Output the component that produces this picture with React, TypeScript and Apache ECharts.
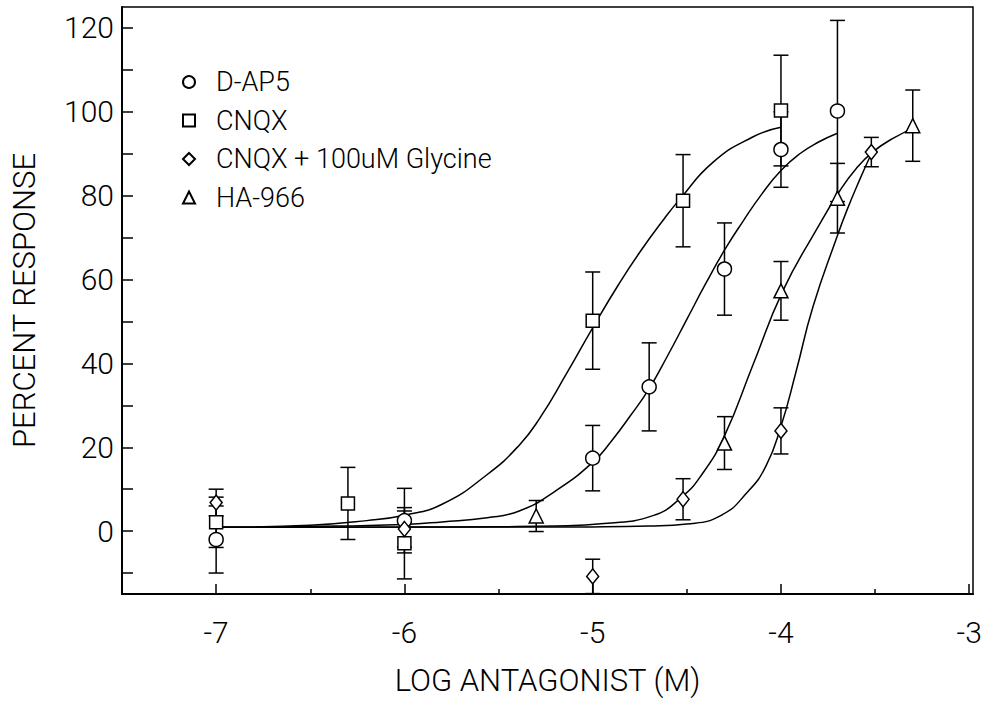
import React, { useEffect, useRef } from "react";
import * as echarts from "echarts";

// ---- Data ----
const seriesNames = ["D-AP5", "CNQX", "CNQX + 100uM Glycine", "HA-966"];

// D-AP5 (circles)
const dap5X = [-7, -6, -5, -4.7, -4.3, -4, -3.7];
const dap5Y = [-2, 2.5, 17.4, 34.4, 62.5, 91, 100.2];
const dap5Err = [8, 7.7, 7.8, 10.5, 11, 9, 21.6];

// CNQX (squares)
const cnqxX = [-7, -6.3, -6, -5, -4.52, -4];
const cnqxY = [2.1, 6.6, -2.9, 50.2, 78.8, 100.3];
const cnqxErr = [6, 8.6, 8.5, 11.6, 11, 13.2];

// CNQX + 100uM Glycine (diamonds)
const glyX = [-7, -6, -5, -4.52, -4, -3.52];
const glyY = [6.8, 0.5, -10.8, 7.6, 23.9, 90.4];
const glyErr = [3.2, 4.3, 4.1, 4.9, 5.5, 3.5];

// HA-966 (triangles)
const haX = [-5.3, -4.3, -4, -3.7, -3.3];
const haY = [3.6, 21, 57.3, 79.4, 96.7];
const haErr = [3.7, 6.3, 7, 8.3, 8.5];

// Fitted curves, points
const cnqxCurveX = [-7, -6.5, -6.2, -6, -5.8, -5.56, -5.39, -5.28, -5.14, -5, -4.86, -4.75, -4.62, -4.54, -4.36, -4.15, -4];
const cnqxCurveY = [0.9, 1.4, 2.5, 3.8, 6.4, 13.5, 20.5, 27, 37.5, 48.5, 59, 66.5, 74.5, 79, 88, 94, 96.3];

const dap5CurveX = [-7, -6.5, -6, -5.8, -5.56, -5.39, -5.2, -5, -4.9, -4.8, -4.7, -4.6, -4.5, -4.4, -4.3, -4.2, -4.1, -4, -3.9, -3.8, -3.7];
const dap5CurveY = [0.9, 1.1, 1.6, 2.2, 3.2, 4.8, 9.5, 16.4, 21.5, 27.5, 34, 42, 50.5, 59, 67, 74, 80.5, 86, 90, 92.8, 94.9];

const haCurveX = [-7, -6, -5.5, -5.2, -4.94, -4.68, -4.53, -4.42, -4.3, -4.15, -3.99, -3.81, -3.69, -3.6, -3.51, -3.4, -3.28];
const haCurveY = [0.9, 0.95, 1.05, 1.2, 1.8, 3.7, 8.0, 13.5, 22.7, 39.5, 57.3, 72, 81, 86.5, 90.5, 93.8, 96.4];

const glyCurveX = [-7, -5.5, -5, -4.7, -4.5, -4.32, -4.18, -4.08, -4, -3.92, -3.83, -3.7, -3.65, -3.58, -3.52];
const glyCurveY = [0.9, 0.95, 1.0, 1.2, 1.7, 3.7, 9.2, 15.5, 25, 38, 53.5, 70.5, 76.5, 84, 90];

const xTickMajor = [-7, -6, -5, -4, -3];
const xTickMinor = [-6.5, -5.5, -4.5, -3.5];
const yTicks = [-10, 0, 10, 20, 30, 40, 50, 60, 70, 80, 90, 100, 110, 120];
const yLabels = [0, 20, 40, 60, 80, 100, 120];

const FONT = "Roboto";

function zip(xs: number[], ys: number[]) {
  return xs.map((x, i) => [x, ys[i]]);
}
function errData(xs: number[], ys: number[], es: number[]) {
  return xs.map((x, i) => [x, ys[i] - es[i], ys[i] + es[i]]);
}

const errRender = (params: any, api: any) => {
  const x = api.value(0);
  const lo = api.value(1);
  const hi = api.value(2);
  const pLo = api.coord([x, lo]);
  const pHi = api.coord([x, hi]);
  const hw = 7.5;
  const style = { stroke: "#000", lineWidth: 1.5 };
  return {
    type: "group",
    children: [
      { type: "line", shape: { x1: pLo[0], y1: pLo[1], x2: pHi[0], y2: pHi[1] }, style },
      { type: "line", shape: { x1: pHi[0] - hw, y1: pHi[1], x2: pHi[0] + hw, y2: pHi[1] }, style },
      { type: "line", shape: { x1: pLo[0] - hw, y1: pLo[1], x2: pLo[0] + hw, y2: pLo[1] }, style },
    ],
  };
};

export default function App() {
  const ref = useRef<HTMLDivElement>(null);
  useEffect(() => {
    if (!ref.current) return;
    const chart = echarts.init(ref.current, undefined, { renderer: "svg" });
    const symbols = ["circle", "rect", "diamond", "triangle"];
    const sizes: any[] = [14, 13, [12, 15], 14];
    const pts = [zip(dap5X, dap5Y), zip(cnqxX, cnqxY), zip(glyX, glyY), zip(haX, haY)];
    const errs = [
      errData(dap5X, dap5Y, dap5Err),
      errData(cnqxX, cnqxY, cnqxErr),
      errData(glyX, glyY, glyErr),
      errData(haX, haY, haErr),
    ];
    const curves = [
      zip(dap5CurveX, dap5CurveY),
      zip(cnqxCurveX, cnqxCurveY),
      zip(glyCurveX, glyCurveY),
      zip(haCurveX, haCurveY),
    ];
    const series: any[] = [];
    curves.forEach((c, i) => {
      series.push({
        type: "line",
        name: seriesNames[i] + " fit",
        data: c,
        showSymbol: false,
        smooth: 0.5,
        lineStyle: { color: "#000", width: 1.5 },
        z: 2,
        silent: true,
      });
    });
    errs.forEach((e, i) => {
      series.push({
        type: "custom",
        name: seriesNames[i] + " error",
        data: e,
        renderItem: errRender,
        encode: { x: 0, y: [1, 2] },
        z: 3,
        silent: true,
      });
    });
    pts.forEach((p, i) => {
      series.push({
        type: "scatter",
        name: seriesNames[i],
        data: p,
        symbol: symbols[i],
        symbolSize: sizes[i],
        itemStyle: { color: "#fff", borderColor: "#000", borderWidth: 1.5, opacity: 1 },
        z: 5,
      });
    });

    chart.setOption({
      animation: false,
      backgroundColor: "#fff",
      textStyle: { fontFamily: FONT },
      grid: {
        left: 122,
        top: 7,
        width: 851,
        height: 588,
        show: true,
        borderColor: "#000",
        borderWidth: 1.5,
        containLabel: false,
      },
      legend: {
        data: seriesNames,
        orient: "vertical",
        left: 177,
        top: 62,
        itemWidth: 12,
        itemHeight: 12,
        itemGap: 8.5,
        textStyle: {
          fontSize: 27,
          fontFamily: FONT,
          fontWeight: 300,
          color: "#000",
          lineHeight: 30,
          padding: [0, 0, 0, 16],
        },
        selectedMode: false,
      },
      xAxis: [
        {
          type: "value",
          min: -7.5,
          max: -2.98,
          name: "LOG ANTAGONIST (M)",
          nameLocation: "middle",
          nameGap: 71,
          nameTextStyle: { fontSize: 31, fontFamily: FONT, fontWeight: 300, color: "#000" },
          axisLine: { show: true, onZero: false, lineStyle: { color: "#000", width: 2 } },
          axisTick: { show: true, inside: true, length: 10, customValues: xTickMajor, lineStyle: { color: "#000", width: 1.5 } },
          axisLabel: {
            show: true,
            customValues: xTickMajor,
            margin: 23,
            fontSize: 30,
            fontFamily: FONT,
            fontWeight: 300,
            color: "#000",
            formatter: (v: number) => String(Math.round(v)),
          },
          splitLine: { show: false },
        },
        {
          type: "value",
          min: -7.5,
          max: -2.98,
          position: "bottom",
          axisLine: { show: false, onZero: false },
          axisTick: { show: true, inside: true, length: 5, customValues: xTickMinor, lineStyle: { color: "#000", width: 1.5 } },
          axisLabel: { show: false },
          splitLine: { show: false },
        },
      ],
      yAxis: {
        type: "value",
        min: -15,
        max: 125,
        name: "PERCENT RESPONSE",
        nameLocation: "middle",
        nameGap: 82,
        nameRotate: 90,
        nameTextStyle: { fontSize: 31, fontFamily: FONT, fontWeight: 300, color: "#000" },
        axisLine: { show: true, onZero: false, lineStyle: { color: "#000", width: 2 } },
        axisTick: { show: true, inside: true, length: 11, customValues: yTicks, lineStyle: { color: "#000", width: 1.5 } },
        axisLabel: {
          show: true,
          customValues: yLabels,
          margin: 8,
          fontSize: 30,
          fontFamily: FONT,
          fontWeight: 300,
          color: "#000",
        },
        splitLine: { show: false },
      },
      series,
    });
    return () => chart.dispose();
  }, []);
  return <div ref={ref} style={{ position: "fixed", left: 0, top: 0, width: 995, height: 701 }} />;
}
